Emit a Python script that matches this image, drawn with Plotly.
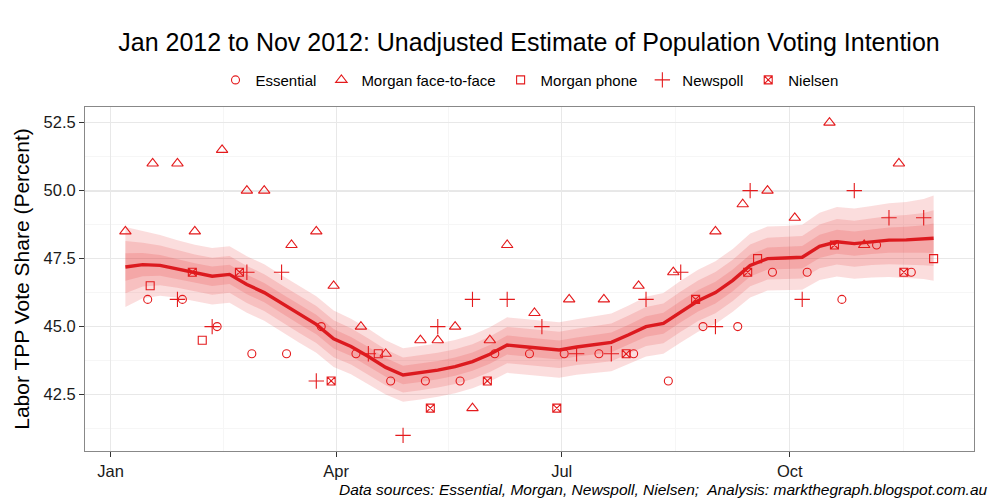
import plotly.graph_objects as go

RED = "#E41A1C"

# ---------------- poll data ----------------
essential_dates = ["2012-01-16", "2012-01-30", "2012-02-13", "2012-02-27", "2012-03-12", "2012-03-26",
                   "2012-04-09", "2012-04-23", "2012-05-07", "2012-05-21", "2012-06-04", "2012-06-18",
                   "2012-07-02", "2012-07-16", "2012-07-30", "2012-08-13", "2012-08-27", "2012-09-10",
                   "2012-09-24", "2012-10-08", "2012-10-22", "2012-11-05", "2012-11-19"]
essential_vals = [46, 46, 45, 44, 44, 45, 44, 43, 43, 43, 44, 44, 44, 44, 44, 43, 45, 45, 47, 47, 46, 48, 47]

morgan_f2f_dates = ["2012-01-07", "2012-01-18", "2012-01-28", "2012-02-04", "2012-02-15", "2012-02-25",
                    "2012-03-03", "2012-03-14", "2012-03-24", "2012-03-31", "2012-04-11", "2012-04-21",
                    "2012-05-05", "2012-05-12", "2012-05-19", "2012-05-26", "2012-06-02", "2012-06-09",
                    "2012-06-20", "2012-07-04", "2012-07-18", "2012-08-01", "2012-08-15", "2012-09-01",
                    "2012-09-12", "2012-09-22", "2012-10-03", "2012-10-17", "2012-10-31", "2012-11-14"]
morgan_f2f_vals = [48.5, 51, 51, 48.5, 51.5, 50, 50, 48, 48.5, 46.5, 45, 44, 44.5, 44.5, 45, 42, 44.5, 48,
                   45.5, 46, 46, 46.5, 47, 48.5, 49.5, 50, 49, 52.5, 48, 51]

morgan_phone_dates = ["2012-01-17", "2012-02-07", "2012-04-18", "2012-09-18", "2012-11-28"]
morgan_phone_vals = [46.5, 44.5, 44, 47.5, 47.5]

newspoll_dates = ["2012-01-28", "2012-02-11", "2012-02-25", "2012-03-10", "2012-03-24", "2012-04-14",
                  "2012-04-28", "2012-05-12", "2012-05-26", "2012-06-09", "2012-06-23", "2012-07-07",
                  "2012-07-21", "2012-08-04", "2012-08-18", "2012-09-01", "2012-09-15", "2012-10-06",
                  "2012-10-27", "2012-11-10", "2012-11-24"]
newspoll_vals = [46, 45, 47, 47, 43, 44, 41, 45, 46, 46, 45, 44, 44, 46, 47, 45, 50, 46, 50, 49, 49]

nielsen_dates = ["2012-02-03", "2012-02-22", "2012-03-30", "2012-05-09", "2012-06-01", "2012-06-29",
                 "2012-07-27", "2012-08-24", "2012-09-14", "2012-10-19", "2012-11-16"]
nielsen_vals = [47, 47, 43, 42, 43, 42, 44, 46, 47, 48, 47]

# ---------------- estimated trend ----------------
trend_dates = ["2012-01-07", "2012-01-14", "2012-01-21", "2012-01-28", "2012-02-04", "2012-02-11",
               "2012-02-18", "2012-02-25", "2012-03-03", "2012-03-10", "2012-03-17", "2012-03-24",
               "2012-03-31", "2012-04-07", "2012-04-14", "2012-04-21", "2012-04-28", "2012-05-05",
               "2012-05-12", "2012-05-19", "2012-05-26", "2012-06-02", "2012-06-09", "2012-06-16",
               "2012-06-23", "2012-06-30", "2012-07-07", "2012-07-14", "2012-07-21", "2012-07-28",
               "2012-08-04", "2012-08-11", "2012-08-18", "2012-08-25", "2012-09-01", "2012-09-08",
               "2012-09-15", "2012-09-22", "2012-09-29", "2012-10-06", "2012-10-13", "2012-10-20",
               "2012-10-27", "2012-11-03", "2012-11-10", "2012-11-17", "2012-11-24", "2012-11-28"]
trend_mean = [47.19, 47.28, 47.25, 47.12, 46.97, 46.85, 46.92, 46.55, 46.25, 45.85, 45.45, 45.08,
              44.55, 44.27, 43.90, 43.50, 43.22, 43.30, 43.40, 43.53, 43.71, 43.98, 44.32, 44.26,
              44.20, 44.14, 44.25, 44.33, 44.42, 44.70, 45.00, 45.12, 45.55, 45.95, 46.25, 46.70,
              47.25, 47.50, 47.52, 47.55, 47.95, 48.12, 48.05, 48.12, 48.18, 48.19, 48.22, 48.25]
trend_sd = [0.75, 0.63, 0.57, 0.54, 0.53, 0.53, 0.53, 0.53, 0.53, 0.53, 0.53, 0.53,
            0.53, 0.52, 0.52, 0.51, 0.50, 0.50, 0.50, 0.50, 0.50, 0.51, 0.52, 0.52,
            0.52, 0.52, 0.52, 0.53, 0.54, 0.55, 0.56, 0.57, 0.58, 0.58, 0.59, 0.59,
            0.60, 0.60, 0.60, 0.61, 0.63, 0.65, 0.66, 0.67, 0.69, 0.71, 0.75, 0.80]
interval_z = [1.96, 1.2816, 0.6745]  # 95%, 80%, 50% intervals

# axis ticks
x_tick_vals = ["2012-01-01", "2012-04-01", "2012-07-01", "2012-10-01"]
x_tick_text = ["Jan", "Apr", "Jul", "Oct"]
x_minor_vals = ["2012-02-15 12:00", "2012-05-16 12:00", "2012-08-16", "2012-11-16"]
y_tick_vals = [42.5, 45.0, 47.5, 50.0, 52.5]
y_minor_vals = [41.25, 43.75, 46.25, 48.75, 51.25]

fig = go.Figure()

# credible interval bands (stacked translucent layers)
for z in interval_z:
    upper = [m + z * s for m, s in zip(trend_mean, trend_sd)]
    lower = [m - z * s for m, s in zip(trend_mean, trend_sd)]
    fig.add_trace(go.Scatter(
        x=trend_dates + trend_dates[::-1],
        y=upper + lower[::-1],
        fill="toself", fillcolor="rgba(228,26,28,0.15)",
        line=dict(width=0), mode="lines", hoverinfo="skip", showlegend=False))

fig.add_trace(go.Scatter(x=trend_dates, y=trend_mean, mode="lines",
                         line=dict(color="#DC1A1F", width=3.4), showlegend=False))

series = [
    ("Essential", essential_dates, essential_vals, "circle-open", 8),
    ("Morgan face-to-face", morgan_f2f_dates, morgan_f2f_vals, "triangle-up-open", 10),
    ("Morgan phone", morgan_phone_dates, morgan_phone_vals, "square-open", 8),
    ("Newspoll", newspoll_dates, newspoll_vals, "cross-thin-open", 11),
    ("Nielsen", nielsen_dates, nielsen_vals, "square-x-open", 8),
]
for name, xs, ys, sym, size in series:
    fig.add_trace(go.Scatter(x=xs, y=ys, mode="markers", name=name,
                             marker=dict(symbol=sym, size=size, color=RED,
                                         line=dict(color=RED, width=1.1))))

# reference line at 50%
fig.add_shape(type="line", xref="paper", yref="y", x0=0, x1=1, y0=50, y1=50,
              line=dict(color="#a0a0a0", width=1.3), layer="below")

font_family = "Liberation Sans, Arial, sans-serif"
fig.update_layout(
    width=1000, height=500,
    margin=dict(l=85, r=26, t=107, b=49),
    paper_bgcolor="white", plot_bgcolor="white",
    font=dict(family=font_family, color="#000000"),
    title=dict(text="Jan 2012 to Nov 2012: Unadjusted Estimate of Population Voting Intention",
               x=0.529, xanchor="center", y=0.916, yanchor="middle",
               font=dict(size=25, color="#000000")),
    legend=dict(orientation="h", x=0.5, xanchor="center", y=1.078, yanchor="middle",
                font=dict(size=15), itemwidth=30, bgcolor="rgba(0,0,0,0)"),
    showlegend=True,
    annotations=[dict(text="<i>Data sources: Essential, Morgan, Newspoll, Nielsen;  Analysis: markthegraph.blogspot.com.au</i>",
                      xref="paper", yref="paper", x=1.018, y=-0.113, xanchor="right", yanchor="middle",
                      showarrow=False, font=dict(size=15.5, color="#000000"))],
)

fig.update_xaxes(
    type="date", range=["2011-12-21 17:00", "2012-12-14 07:00"],
    tickmode="array", tickvals=x_tick_vals, ticktext=x_tick_text,
    ticks="outside", ticklen=5, tickcolor="#333333", tickfont=dict(size=16.5, color="#1a1a1a"),
    showgrid=True, gridcolor="#e8e8e8", gridwidth=1,
    minor=dict(tickmode="array", tickvals=x_minor_vals, showgrid=True, gridcolor="#f6f6f6", gridwidth=1, ticks=""),
    showline=True, mirror=True, linecolor="#888888", linewidth=1, zeroline=False,
)
fig.update_yaxes(
    range=[40.425, 53.075],
    tickmode="array", tickvals=y_tick_vals, ticktext=[f"{v:.1f}" for v in y_tick_vals],
    ticks="outside", ticklen=5, tickcolor="#333333", tickfont=dict(size=16.5, color="#1a1a1a"),
    showgrid=True, gridcolor="#e8e8e8", gridwidth=1,
    minor=dict(tickmode="array", tickvals=y_minor_vals, showgrid=True, gridcolor="#f6f6f6", gridwidth=1, ticks=""),
    showline=True, mirror=True, linecolor="#888888", linewidth=1, zeroline=False,
    title=dict(text="Labor TPP Vote Share (Percent)", font=dict(size=21, color="#000000"), standoff=8),
)

fig.write_html("out.html", config={"displayModeBar": False},
               post_script="document.body.style.margin='0';document.body.style.overflow='hidden';")
